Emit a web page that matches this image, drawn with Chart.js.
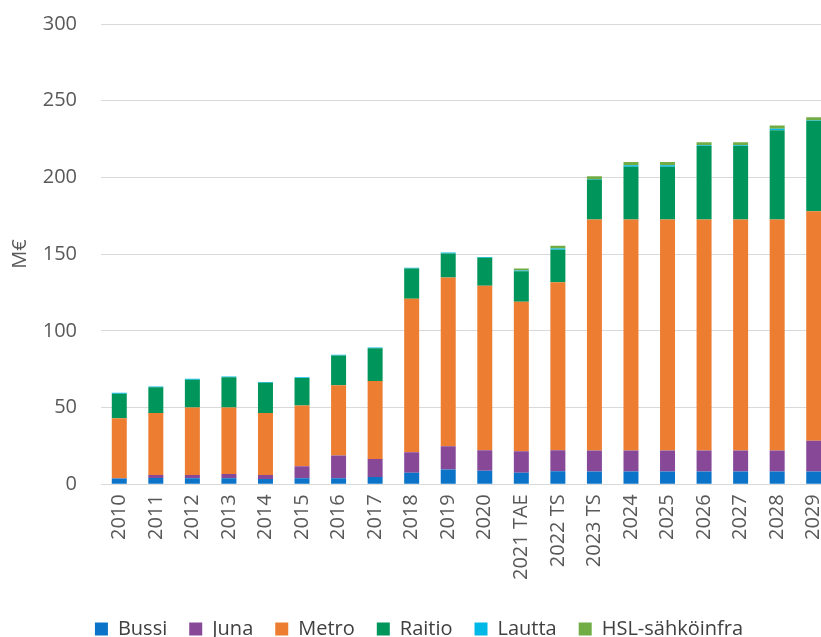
<!DOCTYPE html>
<html lang="fi">
<head>
<meta charset="UTF-8">
<title>Investoinnit M€</title>
<script src="https://cdn.jsdelivr.net/npm/chart.js@4/dist/chart.umd.min.js"></script>
<style>
    html, body {
        margin: 0;
        padding: 0;
        background: #ffffff;
        overflow: hidden;
    }
    #chart-box {
        width: 832px;
        height: 637px;
        position: relative;
    }
</style>
</head>
<body>
<div id="chart-box">
    <canvas id="invest-chart"></canvas>
</div>
<script>
// Vuodet / kategoriat
const years = ['2010', '2011', '2012', '2013', '2014', '2015', '2016', '2017', '2018', '2019',
    '2020', '2021 TAE', '2022 TS', '2023 TS', '2024', '2025', '2026', '2027', '2028', '2029'];

// Sarjat (M€), luettu kuvasta
const bussi = [3.7, 4.1, 4.0, 4.0, 3.5, 3.9, 4.0, 4.8, 7.6, 9.6,
    8.9, 7.6, 8.5, 8.3, 8.3, 8.3, 8.3, 8.3, 8.3, 8.3];
const juna = [0.3, 2.0, 2.0, 2.7, 2.5, 7.8, 14.7, 11.7, 13.3, 15.2,
    13.3, 14.0, 13.7, 13.7, 13.7, 13.7, 13.7, 13.7, 13.7, 20.0];
const metro = [39.0, 40.3, 44.0, 43.3, 40.4, 39.6, 45.8, 50.8, 100.0, 110.0,
    107.2, 97.4, 109.4, 150.5, 150.5, 150.5, 150.5, 150.5, 150.5, 149.7];
const raitio = [16.0, 16.8, 18.2, 19.7, 19.8, 18.0, 19.4, 21.4, 19.7, 15.7,
    18.3, 19.8, 21.3, 26.2, 34.5, 34.5, 48.0, 48.0, 58.2, 59.0];
const lautta = [0.6, 0.6, 0.6, 0.6, 0.5, 0.5, 0.5, 0.5, 0.5, 0.5,
    0.5, 0.6, 0.8, 0.2, 1.0, 1.0, 0.4, 0.4, 1.1, 0.3];
const hslSahkoinfra = [0, 0, 0, 0, 0, 0, 0, 0, 0, 0,
    0, 1.2, 1.8, 1.8, 2.0, 2.0, 2.0, 2.0, 2.0, 2.0];

// Y-akselin asteikko
const yMin = 0;
const yMax = 300;
const yStep = 50;

const textColor = '#595959';
const fontFamily = '"Open Sans", "DejaVu Sans", sans-serif';

function makeSet(label, data, color) {
    return {
        label: label,
        data: data,
        backgroundColor: color,
        borderWidth: 0,
        categoryPercentage: 1.0,
        barPercentage: 0.41
    };
}

// Siirretään legendaa hieman alemmas piirtoalueen alapuolella
const legendShift = {
    id: 'legendShift',
    afterLayout: function(chart) {
        if (chart.legend) {
            chart.legend.top += 12;
            chart.legend.bottom += 12;
        }
    }
};

const ctx = document.getElementById('invest-chart').getContext('2d');

new Chart(ctx, {
    type: 'bar',
    data: {
        labels: years,
        datasets: [
            makeSet('Bussi', bussi, '#0B74C8'),
            makeSet('Juna', juna, '#874898'),
            makeSet('Metro', metro, '#ED7D31'),
            makeSet('Raitio', raitio, '#00955A'),
            makeSet('Lautta', lautta, '#00B8E6'),
            makeSet('HSL-sähköinfra', hslSahkoinfra, '#72AC44')
        ]
    },
    plugins: [legendShift],
    options: {
        responsive: true,
        maintainAspectRatio: false,
        animation: false,
        layout: {
            padding: { top: 24, right: 0, bottom: 0, left: 6 }
        },
        plugins: {
            tooltip: { enabled: false },
            legend: {
                position: 'bottom',
                labels: {
                    color: '#404040',
                    boxWidth: 13,
                    boxHeight: 13,
                    padding: 22,
                    font: { family: fontFamily, size: 20 }
                }
            }
        },
        scales: {
            x: {
                stacked: true,
                grid: { display: false, drawTicks: false },
                border: { display: true, color: '#d9d9d9', width: 1 },
                ticks: {
                    color: textColor,
                    minRotation: 90,
                    maxRotation: 90,
                    autoSkip: false,
                    padding: 10,
                    font: { family: fontFamily, size: 20 }
                },
                afterFit: function(scale) {
                    // viimeinen pylväs jatkuu kuvan reunaan asti
                    scale.paddingRight = 0;
                    scale.height = scale.height - 5;
                }
            },
            y: {
                stacked: true,
                min: yMin,
                max: yMax,
                grid: { color: '#d9d9d9', drawTicks: false },
                border: { display: false },
                ticks: {
                    stepSize: yStep,
                    color: textColor,
                    padding: 24,
                    font: { family: fontFamily, size: 20 }
                },
                title: {
                    display: true,
                    text: 'M€',
                    color: textColor,
                    padding: { top: 2, bottom: 0 },
                    font: { family: fontFamily, size: 20 }
                },
                afterFit: function(scale) {
                    scale.width = 95;
                    scale.paddingTop = 0;
                    scale.paddingBottom = 0;
                }
            }
        }
    }
});
</script>
</body>
</html>
